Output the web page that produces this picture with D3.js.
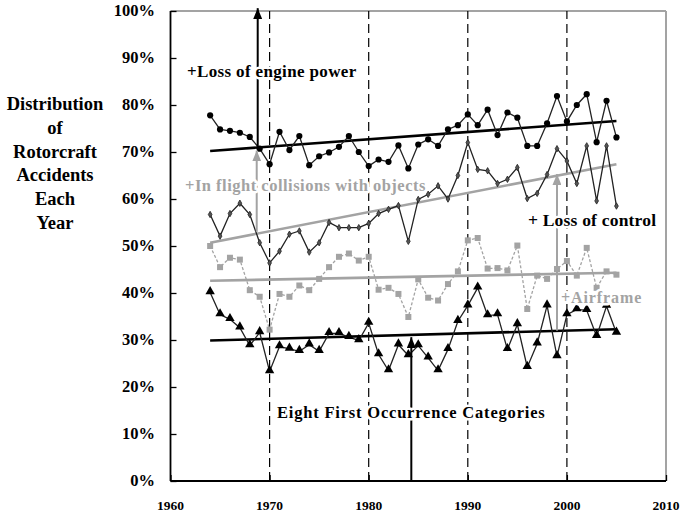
<!DOCTYPE html>
<html>
<head>
<meta charset="utf-8">
<script src="https://cdn.jsdelivr.net/npm/d3@7"></script>
<style>
  body { margin: 0; background: #fff; }
  svg text { font-family: "Liberation Serif", serif; font-weight: 700; }
</style>
</head>
<body>
<svg id="chart"></svg>
<script>
// years on the x axis
const years = [1964, 1965, 1966, 1967, 1968, 1969, 1970, 1971, 1972, 1973, 1974, 1975, 1976, 1977,
               1978, 1979, 1980, 1981, 1982, 1983, 1984, 1985, 1986, 1987, 1988, 1989, 1990, 1991,
               1992, 1993, 1994, 1995, 1996, 1997, 1998, 1999, 2000, 2001, 2002, 2003, 2004, 2005];

// cumulative share of accidents (%)
const engineLevel = [77.8, 74.8, 74.5, 74.1, 73.2, 70.7, 67.4, 74.3, 70.4, 73.4, 67.2, 69.1, 69.9, 71.1,
                     73.4, 70.0, 67.0, 68.4, 67.9, 71.4, 66.5, 71.6, 72.7, 71.3, 74.8, 75.7, 78.0, 75.7,
                     79.0, 73.6, 78.4, 77.3, 71.3, 71.3, 76.1, 81.9, 76.5, 80.0, 82.3, 72.1, 80.9, 73.1];
const collisionLevel = [56.7, 52.1, 56.9, 59.1, 56.7, 50.7, 46.4, 48.9, 52.5, 53.2, 48.7, 50.7, 55.0, 53.9,
                        53.9, 53.9, 54.8, 56.9, 57.8, 58.6, 51.0, 59.9, 61.0, 62.8, 60.0, 65.0, 72.0, 66.3,
                        66.0, 63.3, 64.2, 66.7, 60.1, 61.2, 65.2, 70.7, 68.1, 63.3, 71.3, 59.6, 71.3, 58.5];
const airframeLevel = [50.0, 45.5, 47.5, 47.1, 40.6, 39.2, 32.2, 39.8, 39.2, 41.6, 40.6, 43.0, 45.5, 47.7,
                       48.4, 46.9, 47.7, 40.7, 41.1, 39.8, 34.9, 42.9, 39.0, 38.4, 41.9, 44.6, 51.2, 51.7,
                       45.2, 45.3, 44.8, 50.1, 36.6, 43.7, 43.0, 45.1, 46.8, 43.7, 49.6, 41.1, 44.6, 43.9];
const controlLevel = [40.1, 35.4, 34.4, 32.6, 28.8, 31.6, 23.3, 28.6, 28.1, 27.6, 29.0, 27.6, 31.4, 31.4,
                      30.6, 29.9, 33.6, 26.9, 23.5, 29.0, 26.7, 28.8, 26.2, 23.5, 28.0, 34.0, 37.3, 41.1,
                      35.2, 35.4, 28.0, 33.3, 24.2, 29.2, 37.3, 26.5, 35.4, 36.5, 36.3, 30.8, 37.2, 31.5];

// trend line end values (1964, 2005)
const trendYears = [1964, 2005];
const engineTrend = [70.2, 76.6];
const collisionTrend = [50.7, 67.4];
const airframeTrend = [42.6, 44.3];
const controlTrend = [29.9, 32.3];

const xTicks = [1960, 1970, 1980, 1990, 2000, 2010];
const yTicks = [0, 10, 20, 30, 40, 50, 60, 70, 80, 90, 100];
const decadeLines = [1970, 1980, 1990, 2000];

const W = 685, H = 513;
const GREY = "#a3a3a3";

const svg = d3.select("#chart").attr("width", W).attr("height", H);

const x = d3.scaleLinear().domain([1960, 2010]).range([170.5, 666]);
const y = d3.scaleLinear().domain([0, 100]).range([481, 11]);

// arrowheads (all arrows point up)
const defs = svg.append("defs");
[["headBlack", "#000"], ["headGrey", GREY]].forEach(([id, c]) => {
  defs.append("marker").attr("id", id)
    .attr("viewBox", "0 0 10 12").attr("refX", 5).attr("refY", 0)
    .attr("markerWidth", 9).attr("markerHeight", 11).attr("markerUnits", "userSpaceOnUse")
    .attr("orient", "0")
    .append("path").attr("d", "M5,0 L10,12 L0,12 Z").attr("fill", c);
});

// frame
svg.append("line").attr("x1", x(1960)).attr("x2", x(2010)).attr("y1", y(100)).attr("y2", y(100))
  .attr("stroke", GREY).attr("stroke-width", 2);
svg.append("line").attr("x1", x(2010)).attr("x2", x(2010)).attr("y1", y(100)).attr("y2", y(0))
  .attr("stroke", GREY).attr("stroke-width", 2);

// decade dashed lines
svg.selectAll(".decade").data(decadeLines).enter().append("line")
  .attr("x1", d => x(d)).attr("x2", d => x(d))
  .attr("y1", y(0)).attr("y2", y(100))
  .attr("stroke", "#000").attr("stroke-width", 1.2).attr("stroke-dasharray", "9,5");

// axes
const yAxis = svg.append("g").attr("transform", `translate(${x(1960)},0)`)
  .call(d3.axisRight(y).tickValues(yTicks).tickSize(6).tickFormat(""));
const xAxis = svg.append("g").attr("transform", `translate(0,${y(0)})`)
  .call(d3.axisTop(x).tickValues(xTicks).tickSize(6).tickFormat(""));
[yAxis, xAxis].forEach(g => {
  g.select(".domain").attr("stroke", "#000").attr("stroke-width", 1.8);
  g.selectAll(".tick line").attr("stroke", "#000").attr("stroke-width", 1.3);
});
xAxis.select(".domain").attr("d", `M${x(1960)},0H${x(2010)}`);
yAxis.select(".domain").attr("d", `M0,${y(0)}V${y(100)}`);

svg.selectAll(".ylab").data(yTicks).enter().append("text")
  .attr("x", 155).attr("y", d => y(d) + 5)
  .attr("text-anchor", "end").attr("font-size", 16.5)
  .text(d => d + "%");
svg.selectAll(".xlab").data(xTicks).enter().append("text")
  .attr("x", d => x(d)).attr("y", 510)
  .attr("text-anchor", "middle").attr("font-size", 13.5)
  .text(d => d);

// y axis title
const titleLines = ["Distribution", "of", "Rotorcraft", "Accidents", "Each", "Year"];
svg.selectAll(".ttl").data(titleLines).enter().append("text")
  .attr("x", 55).attr("y", (d, i) => 110 + i * 23.8)
  .attr("text-anchor", "middle").attr("font-size", 18.5)
  .text(d => d);

// trend lines
const trendLine = d3.line().x((d, i) => x(trendYears[i])).y(d => y(d));
[[engineTrend, "#000"], [collisionTrend, GREY], [airframeTrend, GREY], [controlTrend, "#000"]]
  .forEach(([vals, c]) => {
    svg.append("path").attr("d", trendLine(vals))
      .attr("fill", "none").attr("stroke", c).attr("stroke-width", 2.6);
  });

// series lines
const line = d3.line().x((d, i) => x(years[i])).y(d => y(d));
svg.append("path").attr("d", line(airframeLevel)).attr("fill", "none")
  .attr("stroke", GREY).attr("stroke-width", 1.3).attr("stroke-dasharray", "3,2");
[engineLevel, collisionLevel, controlLevel].forEach(vals => {
  svg.append("path").attr("d", line(vals)).attr("fill", "none")
    .attr("stroke", "#222").attr("stroke-width", 1.3);
});

// markers
svg.selectAll(".m1").data(engineLevel).enter().append("circle")
  .attr("cx", (d, i) => x(years[i])).attr("cy", d => y(d)).attr("r", 3.1).attr("fill", "#000");
svg.selectAll(".m2").data(collisionLevel).enter().append("path")
  .attr("transform", (d, i) => `translate(${x(years[i])},${y(d)})`)
  .attr("d", d3.symbol(d3.symbolDiamond, 12)())
  .attr("fill", "#555").attr("stroke", "#222").attr("stroke-width", 0.8);
svg.selectAll(".m3").data(airframeLevel).enter().append("rect")
  .attr("x", (d, i) => x(years[i]) - 3).attr("y", d => y(d) - 3)
  .attr("width", 6).attr("height", 6).attr("fill", GREY);
svg.selectAll(".m4").data(controlLevel).enter().append("path")
  .attr("transform", (d, i) => `translate(${x(years[i])},${y(d) - 1})`)
  .attr("d", d3.symbol(d3.symbolTriangle, 38)())
  .attr("fill", "#000");

// annotation arrows
function arrow(year, from, to, color, head) {
  svg.append("line").attr("x1", x(year)).attr("x2", x(year))
    .attr("y1", y(from)).attr("y2", y(to))
    .attr("stroke", color).attr("stroke-width", 2)
    .attr("marker-end", `url(#${head})`);
}
arrow(1968.8, 70.6, 100.6, "#000", "headBlack");
arrow(1968.7, 53.0, 70.3, GREY, "headGrey");
arrow(1984.3, 0, 30.6, "#000", "headBlack");
arrow(1999.0, 32.0, 65.3, GREY, "headGrey");

// annotation labels (white halo hides lines behind them)
const labels = [
  { t: "+Loss of engine power", x: 187, y: 77, c: "#000", s: 17, ls: 0.35 },
  { t: "+In flight collisions with objects", x: 185, y: 191, c: GREY, s: 16.5, ls: 0.5 },
  { t: "+ Loss of control", x: 528, y: 226, c: "#000", s: 17.5, ls: 0.2 },
  { t: "+Airframe", x: 561, y: 303, c: GREY, s: 16, ls: 0.9 },
  { t: "Eight First Occurrence Categories", x: 277, y: 418, c: "#000", s: 16.5, ls: 0.8 }
];
svg.selectAll(".ann").data(labels).enter().append("text")
  .attr("x", d => d.x).attr("y", d => d.y)
  .attr("font-size", d => d.s).attr("letter-spacing", d => d.ls).attr("fill", d => d.c)
  .attr("stroke", "#fff").attr("stroke-width", 5).attr("paint-order", "stroke")
  .attr("stroke-linejoin", "round")
  .text(d => d.t);
</script>
</body>
</html>
